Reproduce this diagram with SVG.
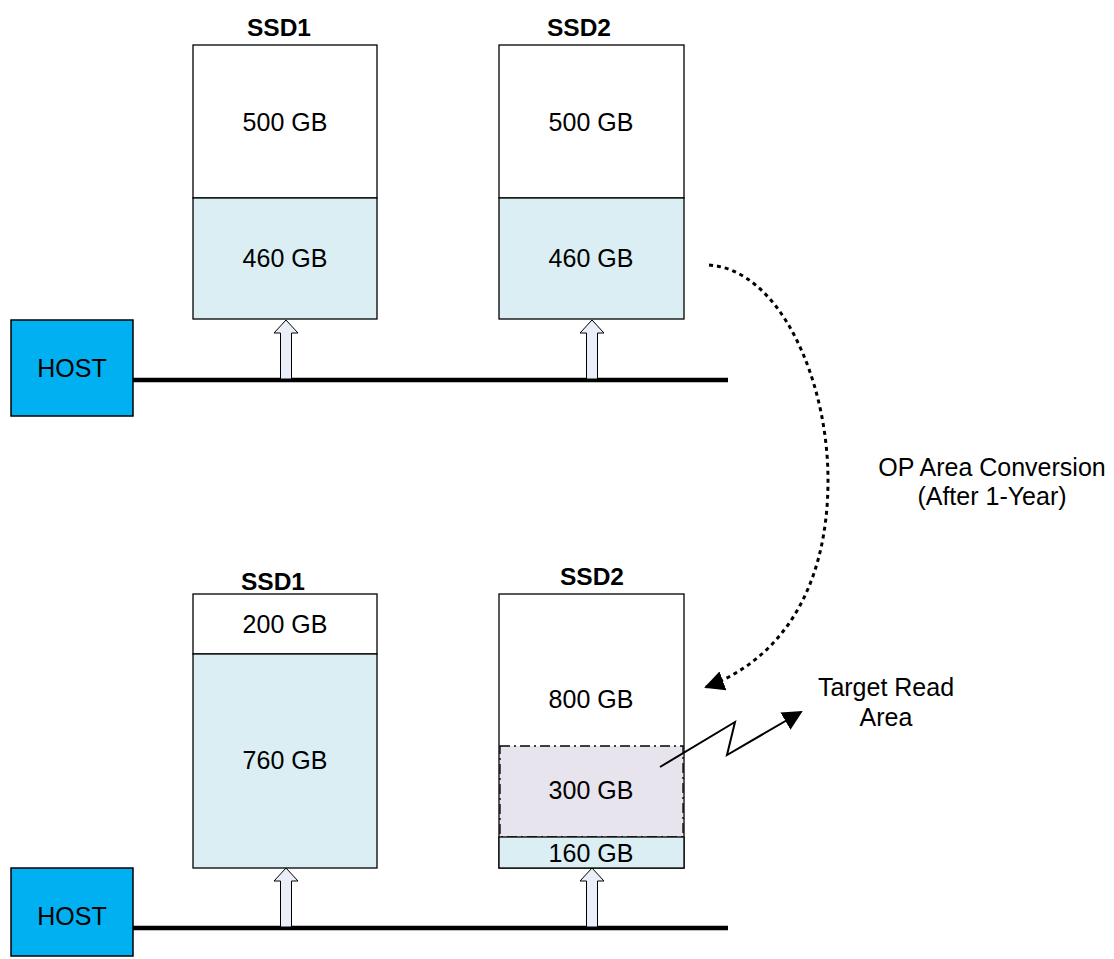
<svg xmlns="http://www.w3.org/2000/svg" width="1114" height="959" viewBox="0 0 1114 959">
<style>
text{font-family:"Liberation Sans",Arial,sans-serif;fill:#000}
.lbl{font-size:25px;text-anchor:middle}
.ttl{font-size:24.5px;font-weight:bold;text-anchor:middle}
.w{fill:#fff;stroke:#000;stroke-width:1.3}
.b{fill:#DAEEF3;stroke:#000;stroke-width:1.3}
.host{fill:#00B0F0;stroke:#000;stroke-width:1.5}
.bus{stroke:#000;stroke-width:4.5;fill:none}
.up{fill:#EAEEF8;stroke:#000;stroke-width:1}
</style>
<defs>
<marker id="ah2" viewBox="0 0 10 10" refX="9" refY="5" markerWidth="20" markerHeight="20" markerUnits="userSpaceOnUse" orient="auto">
<path d="M0,0 L10,5 L0,10 z" fill="#000"/>
</marker>
<path id="uparrow" d="M0,0 L12,13 L5.5,13 L5.5,59 L-5.5,59 L-5.5,13 L-12,13 z"/>
</defs>

<g id="top-ssd1">
<text class="ttl" x="279" y="36">SSD1</text>
<rect class="w" x="193" y="45" width="184" height="153"/>
<rect class="b" x="193" y="198" width="184" height="121"/>
<text class="lbl" x="285" y="131">500 GB</text>
<text class="lbl" x="285" y="267">460 GB</text>
</g>
<g id="top-ssd2">
<text class="ttl" x="579" y="36">SSD2</text>
<rect class="w" x="499" y="45" width="185" height="153"/>
<rect class="b" x="499" y="198" width="185" height="121"/>
<text class="lbl" x="591" y="131">500 GB</text>
<text class="lbl" x="591" y="267">460 GB</text>
</g>
<g id="top-host">
<rect class="host" x="11" y="320" width="122" height="96"/>
<text class="lbl" x="72" y="377">HOST</text>
</g>

<g id="bottom-ssd1">
<text class="ttl" x="273" y="590">SSD1</text>
<rect class="w" x="193" y="594" width="184" height="60"/>
<rect class="b" x="193" y="654" width="184" height="214"/>
<text class="lbl" x="285" y="633">200 GB</text>
<text class="lbl" x="285" y="769">760 GB</text>
</g>
<g id="bottom-ssd2">
<text class="ttl" x="592" y="585">SSD2</text>
<rect class="w" x="499" y="594" width="185" height="274"/>
<rect x="500" y="746" width="183" height="91" fill="#E8E4EE" stroke="#000" stroke-width="1.3" stroke-dasharray="10,4,2,4"/>
<rect class="b" x="499" y="837" width="185" height="31"/>
<text class="lbl" x="591" y="708">800 GB</text>
<text class="lbl" x="591" y="799">300 GB</text>
<text class="lbl" x="591" y="862">160 GB</text>
</g>
<g id="bottom-host">
<rect class="host" x="11" y="868" width="122" height="88"/>
<text class="lbl" x="72" y="925">HOST</text>
</g>

<g id="connectors">
<line class="bus" x1="133" y1="380" x2="728" y2="380"/>
<line class="bus" x1="133" y1="928" x2="728" y2="928"/>
<use href="#uparrow" class="up" x="286" y="320"/>
<use href="#uparrow" class="up" x="592" y="320"/>
<use href="#uparrow" class="up" x="286" y="868"/>
<use href="#uparrow" class="up" x="592" y="868"/>
<path d="M709,265 C780,270 828,380 828,480 C828,590 780,660 706,687" fill="none" stroke="#000" stroke-width="3" stroke-dasharray="4,4" marker-end="url(#ah2)"/>
<polyline points="660,767 735,722 727,755 801,712" fill="none" stroke="#000" stroke-width="2" marker-end="url(#ah2)"/>
</g>

<g id="labels">
<text class="lbl" x="992" y="476">OP Area Conversion</text>
<text class="lbl" x="992" y="505">(After 1-Year)</text>
<text class="lbl" x="886" y="696">Target Read</text>
<text class="lbl" x="886" y="726">Area</text>
</g>
</svg>
